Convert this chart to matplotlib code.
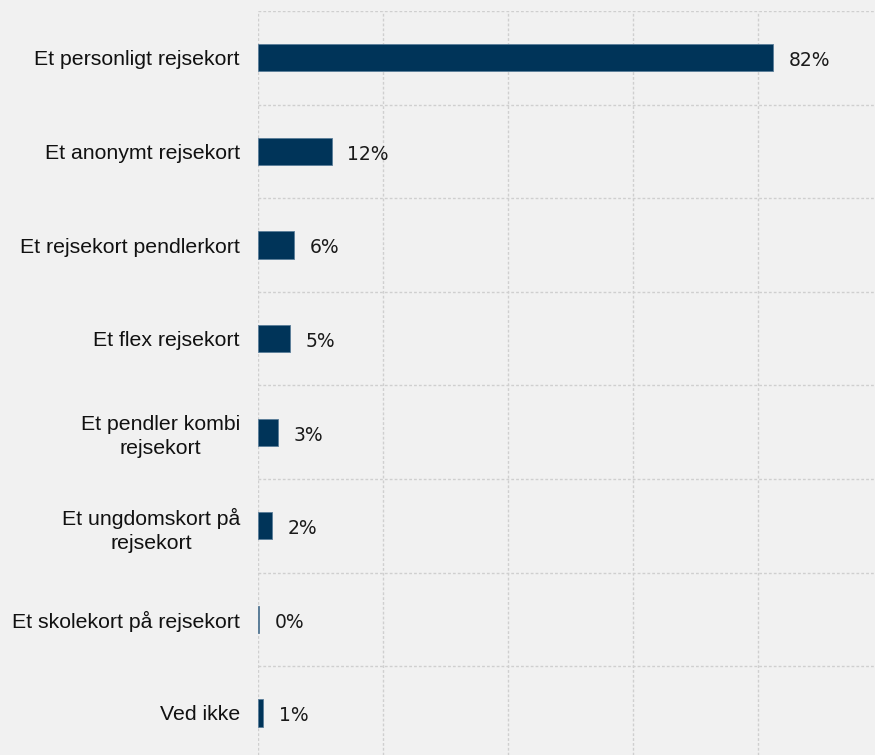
import matplotlib
matplotlib.use("Agg")
import matplotlib.pyplot as plt

categories = [
    "Et personligt rejsekort",
    "Et anonymt rejsekort",
    "Et rejsekort pendlerkort",
    "Et flex rejsekort",
    "Et pendler kombi\nrejsekort",
    "Et ungdomskort på\nrejsekort",
    "Et skolekort på rejsekort",
    "Ved ikke",
]
values = [82.4, 11.8, 5.8, 5.1, 3.2, 2.3, 0.2, 0.8]
value_labels = ["82%", "12%", "6%", "5%", "3%", "2%", "0%", "1%"]
grid_x = [0, 20, 40, 60, 80]

W, H = 875, 755
bg = "#f1f1f1"
bar_color = "#003459"
grid_color = "#cfcfcf"

fig = plt.figure(figsize=(W / 100, H / 100), dpi=100, facecolor=bg)
left, right, top, bottom = 258, 875, 11, 755
ax = fig.add_axes([left / W, 1 - bottom / H, (right - left) / W, (bottom - top) / H])
ax.set_facecolor(bg)

row_px = 93.6
n = len(categories)
ypos = list(range(n))
ax.barh(ypos, values, height=0.29, color=bar_color, edgecolor="#5a7d99", linewidth=0.6, zorder=3)

ax.set_xlim(0, (right - left) / 6.25)
ax.set_ylim(-0.5 + (bottom - top) / row_px, -0.5)

for gx in grid_x:
    ax.axvline(gx, color=grid_color, lw=1.0, ls=(0, (2, 1.5)), zorder=1)
for i in range(n):
    ax.axhline(i - 0.5, color=grid_color, lw=1.0, ls=(0, (2, 1.5)), zorder=1)

for y, v, lab in zip(ypos, values, value_labels):
    ax.text(v + 2.5, y + 0.03, lab, va="center", ha="left", fontsize=13.5,
            family="DejaVu Sans", color="#1a1a1a")

ax.set_yticks(ypos)
ax.set_yticklabels(categories, fontsize=15.3, family="Liberation Sans", color="#111111")
for t in ax.get_yticklabels():
    t.set_multialignment("center")
    t.set_linespacing(1.35)
ax.tick_params(axis="y", length=0, pad=13)
ax.set_xticks([])
for s in ax.spines.values():
    s.set_visible(False)

fig.savefig("out.png", dpi=100, facecolor=bg)
